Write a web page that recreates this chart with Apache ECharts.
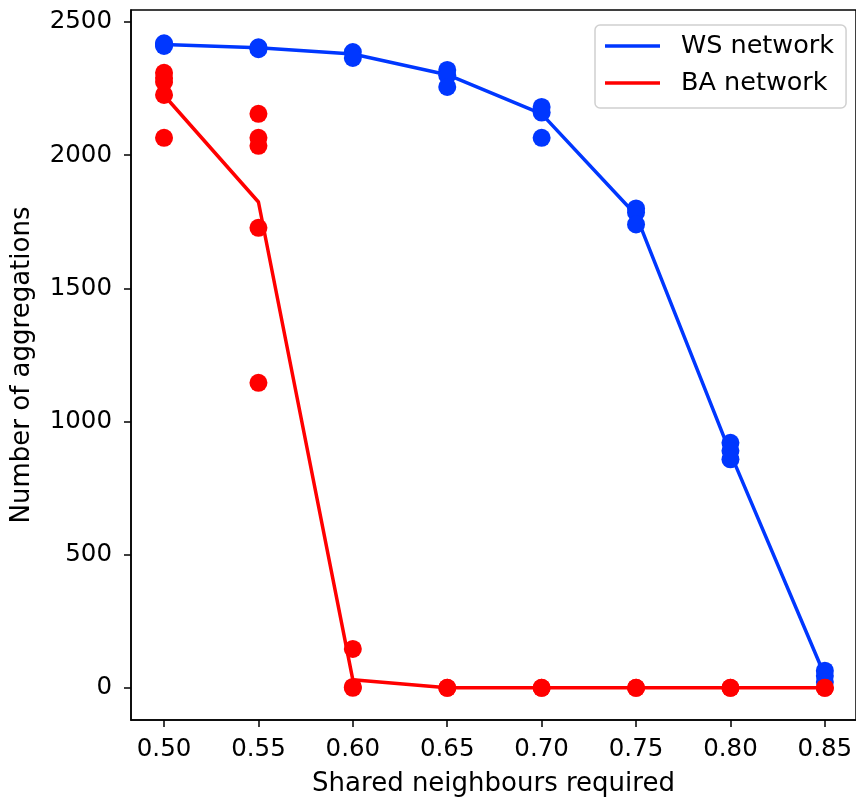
<!DOCTYPE html>
<html><head><meta charset="utf-8">
<script src="https://cdn.jsdelivr.net/npm/echarts@6/dist/echarts.min.js"></script>
<style>html,body{margin:0;padding:0;background:#fff}#c{width:856px;height:798px}</style>
</head><body><div id="c"></div>
<script>
const xCategories = [0.50, 0.55, 0.60, 0.65, 0.70, 0.75, 0.80, 0.85];
const xTicks = [0.50, 0.55, 0.60, 0.65, 0.70, 0.75, 0.80, 0.85];
const yTicks = [0, 500, 1000, 1500, 2000, 2500];
// per-x runs (scatter points)
const wsRuns = [
  [2420, 2415, 2410],
  [2405, 2398],
  [2387, 2365],
  [2320, 2300, 2256],
  [2181, 2160, 2065],
  [1800, 1785, 1740],
  [920, 890, 858],
  [64, 45, 22]
];
const baRuns = [
  [2309, 2290, 2275, 2226, 2065],
  [2155, 2065, 2035, 1727, 1145],
  [146, 3, 0],
  [0, 0],
  [0, 0],
  [0, 0],
  [0, 0],
  [0, 0]
];
// mean lines
const wsLine = [2415, 2403, 2380, 2302, 2155, 1775, 880, 45];
const baLine = [2225, 1824, 30, 0, 0, 0, 0, 0];

const BLUE = '#0037ff', RED = '#ff0000';
function pts(runs){ const o=[]; runs.forEach((r,i)=>r.forEach(v=>o.push([xCategories[i], v]))); return o; }
function linePts(vals){ return vals.map((v,i)=>[xCategories[i], v]); }

const chart = echarts.init(document.getElementById('c'));
const font = 'DejaVu Sans';
const FS = 24.5;
const TS = 26;
chart.setOption({
  animation:false,
  textStyle:{fontFamily:font},
  grid:{left:131, top:10, right:0, bottom:78, show:true, borderColor:'#000', borderWidth:1.5, containLabel:false, outerBoundsMode:'none'},
  xAxis:{type:'value', min:0.4825, max:0.8665,
    name:'Shared neighbours required', nameLocation:'middle', nameGap:51,
    nameTextStyle:{fontSize:TS, color:'#000', fontFamily:font},
    axisLine:{show:true, onZero:false, lineStyle:{color:'#000', width:1.5}},
    axisTick:{show:true, inside:false, length:7, customValues:xTicks, lineStyle:{color:'#000', width:1.5}},
    axisLabel:{customValues:xTicks, fontSize:FS, color:'#000', margin:17, formatter:v=>v.toFixed(2), hideOverlap:false},
    splitLine:{show:false}},
  yAxis:{type:'value', min:-121, max:2545,
    name:'Number of aggregations', nameLocation:'middle', nameGap:96, nameRotate:90,
    nameTextStyle:{fontSize:TS, color:'#000', fontFamily:font},
    axisLine:{show:true, onZero:false, lineStyle:{color:'#000', width:1.5}},
    axisTick:{show:true, inside:false, length:7, customValues:yTicks, lineStyle:{color:'#000', width:1.5}},
    axisLabel:{customValues:yTicks, fontSize:FS, color:'#000', margin:19, formatter:v=>String(Math.round(v))},
    splitLine:{show:false}},
  legend:{left:595, top:25, orient:'vertical', data:['WS network','BA network'],
    icon:'rect', itemWidth:55, itemHeight:3.5, itemGap:9,
    textStyle:{fontSize:25.5, lineHeight:28, color:'#000', fontFamily:font, padding:[0,0,0,16]},
    borderColor:'#d0d0d0', borderWidth:1.5, borderRadius:5, padding:[7,12,11,10], backgroundColor:'#fff'},
  series:[
    {name:'WS network', type:'line', data:linePts(wsLine), symbol:'none', z:2,
      lineStyle:{color:BLUE, width:3.5}, itemStyle:{color:BLUE}},
    {name:'BA network', type:'line', data:linePts(baLine), symbol:'none', z:2,
      lineStyle:{color:RED, width:3.5}, itemStyle:{color:RED}},
    {name:'WS runs', type:'scatter', data:pts(wsRuns), symbolSize:18, z:3, itemStyle:{color:BLUE, opacity:1}},
    {name:'BA runs', type:'scatter', data:pts(baRuns), symbolSize:18, z:4, itemStyle:{color:RED, opacity:1}}
  ]
});
</script></body></html>
